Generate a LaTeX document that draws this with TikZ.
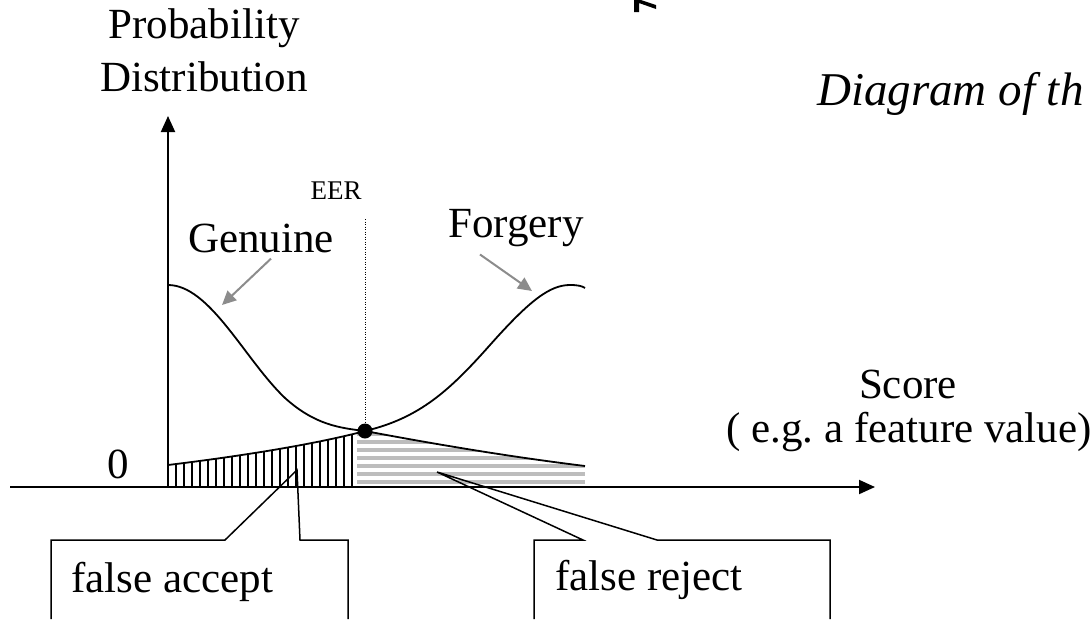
\documentclass[tikz,border=0pt]{standalone}
\usepackage{fontspec}
\setmainfont{Liberation Serif}
\usetikzlibrary{math,arrows.meta}

\begin{document}
\begin{tikzpicture}[x=1pt,y=-1pt,
      axis/.style={line width=2pt,-{Triangle[length=16pt,width=14pt]}},
      curve/.style={line width=1.8pt},
      pointer/.style={draw=black!45,line width=2pt,-{Triangle[length=14pt,width=13pt]}},
      callout/.style={line width=1.5pt},
      big/.style={font=\fontsize{43}{50}\selectfont,inner sep=0pt,anchor=base}]
      \tikzmath{\ox = 168; \oy = 487; \eer = 365; \ey = 431; \xr = 585;}
      \useasboundingbox (0,0) rectangle (1092,619);
      \begin{scope}
        \clip (\ox,\oy) -- (\ox,465) .. controls (250,455) and (320,443) .. (\eer,\ey) -- (\eer,\oy) -- cycle;
        \foreach \x in {168,176,...,355} \draw[line width=1.8pt] (\x,\oy) -- (\x,420);
      \end{scope}
      \begin{scope}
        \clip (357,\oy) -- (357,\ey) -- (\eer,\ey) .. controls (450,447) and (520,458) .. (\xr,466) -- (\xr,\oy) -- cycle;
        \foreach \y in {482,474,...,434} \draw[black!26,line width=3.5pt] (357,\y) -- (\xr,\y);
      \end{scope}
      \draw[curve] (\ox,285) .. controls (210,285) and (245,360) .. (285,398)
        .. controls (315,425) and (340,428) .. (\eer,\ey)
        .. controls (450,447) and (520,458) .. (\xr,466);
      \draw[curve] (\ox,465) .. controls (250,455) and (320,443) .. (\eer,\ey)
        .. controls (420,418) and (450,390) .. (490,345)
        .. controls (530,300) and (550,285) .. (570,285)
        .. controls (578,285) and (582,286) .. (\xr,288);
      \draw[axis] (10,\oy) -- (875,\oy);
      \draw[axis] (\ox,\oy) -- (\ox,116);
      \draw[line width=1pt,dash pattern=on 1pt off 1.5pt] (\eer,219) -- (\eer,\ey);
      \fill (\eer,\ey) circle (7.5pt);
      \fill (634,0) -- (634,12) -- (639,12) -- (639,3) -- (656,9) -- (656,5) -- (641,0) -- cycle;
      \node[big] (prob) at (204,38) {Probability};
      \node[big] (dist) at (204,91) {Distribution};
      \node[big,anchor=base west,font=\fontsize{47}{54}\selectfont\itshape] (title) at (817,105) {Diagram of th};
      \node[font=\fontsize{27}{30}\selectfont,anchor=base,inner sep=0pt] (eer) at (336,199) {EER};
      \node[big] (genuine) at (261,252) {Genuine};
      \node[big] (forgery) at (516,237) {Forgery};
      \node[big] (zero) at (118,478) {0};
      \node[big] (score) at (908,398) {Score};
      \node[big] (scoreex) at (909,442) {( e.g.\ a feature value)};
      \coordinate (gtip) at (222,305);
      \coordinate (ftip) at (532,291);
      \draw[pointer] ([xshift=10pt,yshift=-6pt]genuine.south) -- (gtip);
      \draw[pointer] ([xshift=-36pt,yshift=-8pt]forgery.south) -- (ftip);
      \coordinate (fatip) at (297,470);
      \coordinate (frtip) at (437,472);
      \draw[callout] (51,619) -- (51,540) -- (225,540) -- (fatip) -- (300,540) -- (348,540) -- (348,619);
      \draw[callout] (534,619) -- (534,540) -- (583,540) -- (frtip) -- (657,540) -- (830,540) -- (830,619);
      \node[big,anchor=base west] (fa) at (71,592) {false accept};
      \node[big,anchor=base west] (fr) at (555,590) {false reject};
    \end{tikzpicture}
\end{document}
